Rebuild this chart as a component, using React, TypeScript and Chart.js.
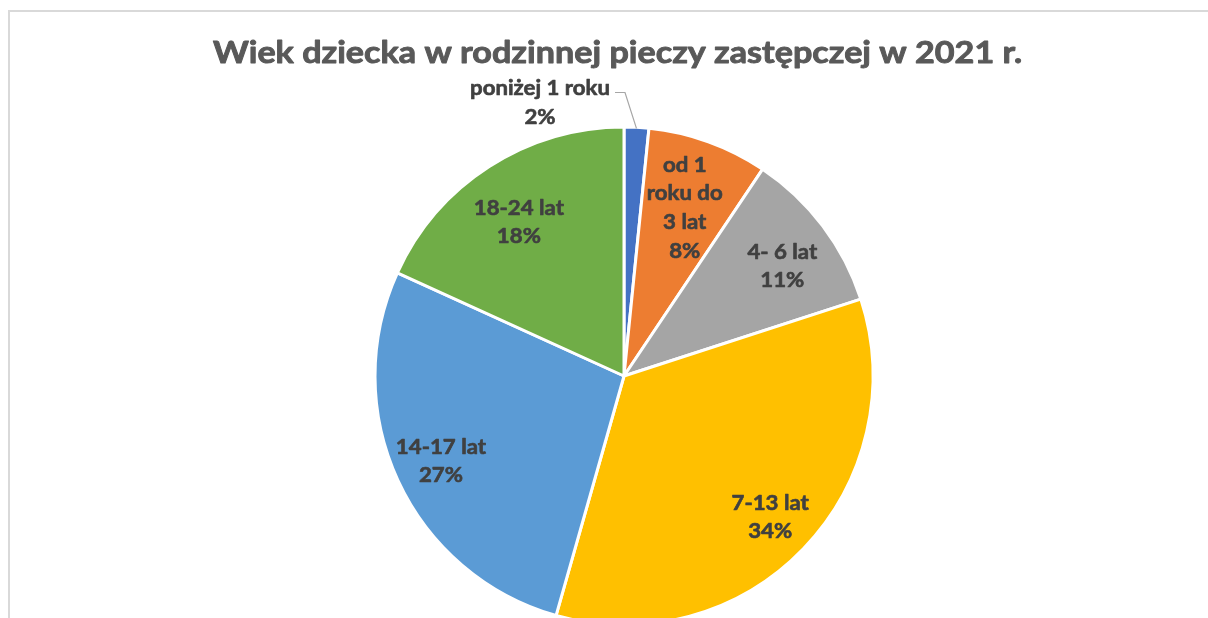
import React, { useEffect, useRef } from 'react';
import { Chart, registerables } from 'chart.js';

Chart.register(...registerables);

const chartTitle = 'Wiek dziecka w rodzinnej pieczy zastępczej w 2021 r.';
const categories = ['poniżej 1 roku', 'od 1 roku do 3 lat', '4- 6 lat', '7-13 lat', '14-17 lat', '18-24 lat'];
const shares = [1.6, 7.8, 10.6, 34.4, 27.4, 18.2];
const sliceColors = ['#4472C4', '#ED7D31', '#A5A5A5', '#FFC000', '#5B9BD5', '#70AD47'];

// label layout (not data)
const labelPlacement = [
  { outside: true, radius: 0, angle: 0, wrap: 1000 },
  { outside: false, radius: 0.72, angle: 0, wrap: 82 },
  { outside: false, radius: 0.775, angle: 2.2, wrap: 1000 },
  { outside: false, radius: 0.815, angle: 0, wrap: 1000 },
  { outside: false, radius: 0.81, angle: 0, wrap: 1000 },
  { outside: false, radius: 0.75, angle: -1.5, wrap: 1000 },
];

const FONT_FAMILY = 'Lato, "Open Sans", sans-serif';

// font size from cap height, horizontal scale from target width
function fitFont(ctx: CanvasRenderingContext2D, text: string, capTarget: number, widthTarget: number) {
  ctx.font = `bold 100px ${FONT_FAMILY}`;
  const cap = ctx.measureText('H').actualBoundingBoxAscent || 71.6;
  const size = (100 * capTarget) / cap;
  ctx.font = `bold ${size}px ${FONT_FAMILY}`;
  const w = ctx.measureText(text).width;
  return { size, sx: widthTarget / w, cap: capTarget };
}

function wrapText(ctx: CanvasRenderingContext2D, text: string, maxWidth: number, sx: number) {
  const words = text.split(' ');
  const lines: string[] = [];
  let cur = '';
  for (const w of words) {
    const test = cur ? cur + ' ' + w : w;
    if (cur && ctx.measureText(test).width * sx > maxWidth) {
      lines.push(cur);
      cur = w;
    } else {
      cur = test;
    }
  }
  if (cur) lines.push(cur);
  return lines;
}

function drawScaled(ctx: CanvasRenderingContext2D, text: string, x: number, y: number, sx: number, weight: number) {
  ctx.save();
  ctx.translate(x, y);
  ctx.scale(sx, 1);
  ctx.fillText(text, 0, 0);
  ctx.lineWidth = weight;
  ctx.lineJoin = 'round';
  ctx.strokeText(text, 0, 0);
  ctx.restore();
}

const labelPlugin = {
  id: 'sliceLabels',
  afterDatasetsDraw(chart: any) {
    const ctx: CanvasRenderingContext2D = chart.ctx;
    const meta = chart.getDatasetMeta(0);
    const data: number[] = chart.data.datasets[0].data;
    const total = data.reduce((a, b) => a + b, 0);
    ctx.save();
    const f = fitFont(ctx, categories[0], 14.6, 140);
    const lh = 28.7;
    ctx.font = `bold ${f.size}px ${FONT_FAMILY}`;
    const capH = f.cap;
    ctx.fillStyle = '#404040';
    ctx.strokeStyle = '#404040';
    ctx.textAlign = 'center';
    ctx.textBaseline = 'alphabetic';
    meta.data.forEach((arc: any, i: number) => {
      const p = arc.getProps(['x', 'y', 'startAngle', 'endAngle', 'outerRadius'], true);
      const place = labelPlacement[i];
      const pct = Math.round((data[i] / total) * 100) + '%';
      const lines = [...wrapText(ctx, String(chart.data.labels[i]), place.wrap, f.sx), pct];
      const mid = (p.startAngle + p.endAngle) / 2;
      if (place.outside) {
        const lx = p.x - 84;
        const ly = p.y - p.outerRadius - 39;
        lines.forEach((ln, k) => {
          drawScaled(ctx, ln, lx, ly + k * lh + capH / 2, f.sx, 0.6);
        });
        // leader line
        ctx.save();
        ctx.strokeStyle = '#A6A6A6';
        ctx.lineWidth = 1.2;
        ctx.beginPath();
        const hy = p.y - p.outerRadius - 34.5;
        ctx.moveTo(p.x - 9, hy);
        ctx.lineTo(p.x + 1, hy);
        ctx.lineTo(p.x + Math.cos(mid) * (p.outerRadius - 1), p.y + Math.sin(mid) * (p.outerRadius - 1));
        ctx.stroke();
        ctx.restore();
      } else {
        const a = mid + (place.angle * Math.PI) / 180;
        const r = p.outerRadius * place.radius;
        const cx = p.x + Math.cos(a) * r;
        const cy = p.y + Math.sin(a) * r;
        const n = lines.length;
        lines.forEach((ln, k) => {
          const y = cy + (k - (n - 1) / 2) * lh;
          drawScaled(ctx, ln, cx, y + capH / 2, f.sx, 0.6);
        });
      }
    });
    ctx.restore();
  },
};

const titlePlugin = {
  id: 'customTitle',
  afterDraw(chart: any) {
    const ctx: CanvasRenderingContext2D = chart.ctx;
    ctx.save();
    const f = fitFont(ctx, chartTitle, 22, 809);
    ctx.font = `bold ${f.size}px ${FONT_FAMILY}`;
    ctx.fillStyle = '#595959';
    ctx.strokeStyle = '#595959';
    ctx.textAlign = 'center';
    ctx.textBaseline = 'alphabetic';
    drawScaled(ctx, chartTitle, 617.5, 63.3, f.sx, 0.9);
    ctx.restore();
  },
};

export default function App() {
  const ref = useRef<HTMLCanvasElement | null>(null);
  useEffect(() => {
    if (!ref.current) return;
    const chart = new Chart(ref.current, {
      type: 'pie',
      data: {
        labels: categories,
        datasets: [
          {
            data: shares,
            backgroundColor: sliceColors,
            borderColor: '#FFFFFF',
            borderWidth: 3,
            hoverOffset: 0,
            radius: 249,
          } as any,
        ],
      },
      options: {
        responsive: false,
        animation: false,
        layout: { padding: { left: 340, right: 300, top: 100, bottom: 48 } },
        plugins: {
          legend: { display: false },
          title: { display: false },
          tooltip: { enabled: false },
        },
      },
      plugins: [labelPlugin, titlePlugin],
    });
    return () => chart.destroy();
  }, []);

  return (
    <div style={{ position: 'absolute', left: 0, top: 0, width: 1208, height: 618, overflow: 'hidden', background: '#fff' }}>
      <div
        style={{
          position: 'absolute',
          left: 8,
          top: 10,
          width: 1400,
          height: 900,
          border: '2px solid #D9D9D9',
          boxSizing: 'border-box',
        }}
      />
      <canvas
        ref={ref}
        width={1208}
        height={700}
        style={{ position: 'absolute', left: 0, top: 0, width: 1208, height: 700, display: 'block' }}
      />
    </div>
  );
}
